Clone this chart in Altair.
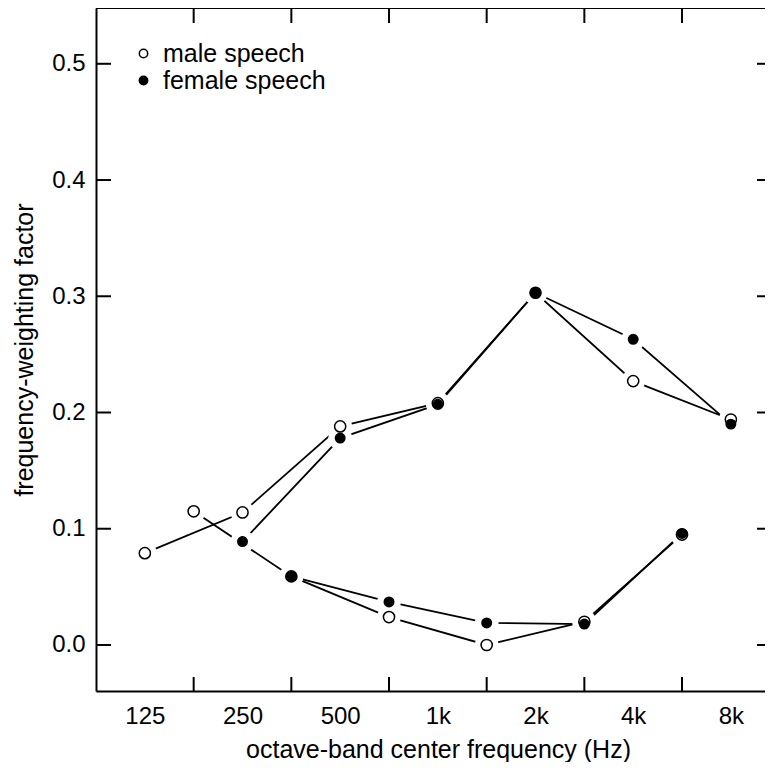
import json
import altair as alt
import pandas as pd

# ---- data ----
band_labels = ["125", "250", "500", "1k", "2k", "4k", "8k"]
band_index = [0, 1, 2, 3, 4, 5, 6]          # octave index, 125 Hz = 0
boundary_index = [0.5, 1.5, 2.5, 3.5, 4.5, 5.5]
y_tick_values = [0.0, 0.1, 0.2, 0.3, 0.4, 0.5]

male_alpha_x = [0, 1, 2, 3, 4, 5, 6]
male_alpha_y = [0.079, 0.114, 0.188, 0.208, 0.303, 0.227, 0.194]
female_alpha_x = [1, 2, 3, 4, 5, 6]
female_alpha_y = [0.089, 0.178, 0.207, 0.303, 0.263, 0.190]
male_beta_x = [0.5, 1.5, 2.5, 3.5, 4.5, 5.5]
male_beta_y = [0.115, 0.059, 0.024, 0.000, 0.020, 0.095]
female_beta_x = [1.5, 2.5, 3.5, 4.5, 5.5]
female_beta_y = [0.059, 0.037, 0.019, 0.018, 0.096]

rows = []
for curve, series, xs, ys in [
    ("male_alpha", "male speech", male_alpha_x, male_alpha_y),
    ("male_beta", "male speech", male_beta_x, male_beta_y),
    ("female_alpha", "female speech", female_alpha_x, female_alpha_y),
    ("female_beta", "female speech", female_beta_x, female_beta_y),
]:
    for x, y in zip(xs, ys):
        rows.append({"curve": curve, "series": series, "x": x, "y": y})
df = pd.DataFrame(rows)

W, H = 669, 683
FONT = "Liberation Sans"

xscale = alt.Scale(domain=[-0.5, -0.5 + W / 97.67], nice=False, zero=False)
yscale = alt.Scale(domain=[-0.0396, 0.548], nice=False, zero=False)

label_expr = json.dumps(band_labels) + "[datum.value]"

x_axis = alt.Axis(
    values=band_index, labelExpr=label_expr, ticks=False, grid=False,
    domain=True, domainColor="black", domainWidth=2,
    labelFontSize=24, labelColor="black", labelPadding=13, labelFont=FONT,
    title="octave-band center frequency (Hz)", titleFontSize=25,
    titleFontWeight="normal", titleColor="black", titleFont=FONT,
    titleX=342, titleY=66, titleBaseline="alphabetic", titleAlign="center",
)
y_axis = alt.Axis(
    values=y_tick_values, format=".1f", ticks=False, grid=False,
    domain=True, domainColor="black", domainWidth=2,
    labelFontSize=24, labelColor="black", labelPadding=11, labelFont=FONT,
    title="frequency-weighting factor", titleFontSize=25,
    titleFontWeight="normal", titleColor="black", titleFont=FONT,
    titleX=-64, titleY=H / 2, titleAngle=-90, titleBaseline="alphabetic",
    titleAlign="center",
)

base = alt.Chart(df)

lines = base.mark_line(color="black", strokeWidth=1.8).encode(
    x=alt.X("x:Q", scale=xscale, axis=x_axis),
    y=alt.Y("y:Q", scale=yscale, axis=y_axis),
    detail="curve:N",
    order="x:Q",
)

halos = base.mark_point(filled=True, fill="white", size=560, strokeWidth=0,
                        opacity=1, shape="circle").encode(
    x=alt.X("x:Q", scale=xscale),
    y=alt.Y("y:Q", scale=yscale),
)

points = base.mark_point(filled=True, shape="circle", stroke="black",
                         strokeWidth=1.5, opacity=1).encode(
    x=alt.X("x:Q", scale=xscale),
    y=alt.Y("y:Q", scale=yscale),
    fill=alt.Fill(
        "series:N",
        scale=alt.Scale(domain=["male speech", "female speech"],
                        range=["white", "black"]),
        legend=alt.Legend(
            orient="none", legendX=35, legendY=33, title=None,
            labelFontSize=25, labelColor="black", labelFont=FONT,
            labelLimit=400,
            symbolType="circle", symbolSize=70, symbolStrokeColor="black",
            symbolStrokeWidth=1.5, padding=0, rowPadding=1, labelOffset=7,
        ),
    ),
    size=alt.condition(alt.datum.series == "male speech",
                       alt.value(125), alt.value(90)),
)

bt = pd.DataFrame({"b": boundary_index})
yt = pd.DataFrame({"v": y_tick_values})
one = pd.DataFrame({"k": [0]})

top_line = alt.Chart(one).mark_rule(color="black", strokeWidth=2).encode(
    x=alt.value(0), x2=alt.value(W), y=alt.value(0))
bottom_ticks = alt.Chart(bt).mark_rule(color="black", strokeWidth=2).encode(
    x=alt.X("b:Q", scale=xscale), y=alt.value(H - 14), y2=alt.value(H))
top_ticks = alt.Chart(bt).mark_rule(color="black", strokeWidth=2).encode(
    x=alt.X("b:Q", scale=xscale), y=alt.value(0), y2=alt.value(15))
left_ticks = alt.Chart(yt).mark_rule(color="black", strokeWidth=2).encode(
    y=alt.Y("v:Q", scale=yscale), x=alt.value(0), x2=alt.value(15))
right_ticks = alt.Chart(yt).mark_rule(color="black", strokeWidth=2).encode(
    y=alt.Y("v:Q", scale=yscale), x=alt.value(W - 8), x2=alt.value(W))

chart = alt.layer(
    lines, halos, points, top_line, bottom_ticks, top_ticks, left_ticks, right_ticks
).properties(
    width=W, height=H,
    autosize=alt.AutoSizeParams(type="none"),
    padding={"left": 88, "top": 0, "right": 0, "bottom": 71},
).configure_view(stroke=None).configure(font=FONT, background="white")

chart.save("out.html", embed_options={"renderer": "svg", "actions": False})
